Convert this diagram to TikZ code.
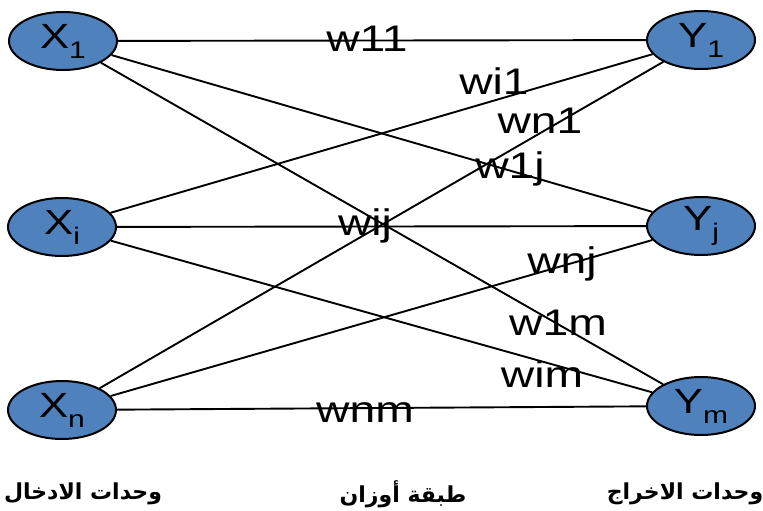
\documentclass[tikz,border=0pt]{standalone}
\usepackage{fontspec}
\usetikzlibrary{shapes.geometric}
\TeXXeTstate=1
\setmainfont{Liberation Sans}
\newfontfamily\wfont[FakeStretch=1.25]{Liberation Sans}
\newfontfamily\arabicfont[Script=Arabic]{DejaVu Sans}
\definecolor{unitblue}{HTML}{4F81BD}
\tikzset{
  unit/.style={ellipse, draw=black, line width=2pt, fill=unitblue,
    minimum width=108pt, minimum height=58pt, inner sep=0pt,
    font=\wfont\fontsize{35}{35}\selectfont},
  link/.style={draw=black, line width=1.9pt},
  weight/.style={anchor=base, inner sep=0pt, font=\wfont\fontsize{37}{37}\selectfont},
  caption/.style={anchor=center, inner sep=0pt, font=\arabicfont\bfseries\fontsize{22}{22}\selectfont}
}
\newcommand{\unitsub}[1]{\raisebox{-10pt}{\fontsize{24}{24}\selectfont #1}}
\begin{document}
\begin{tikzpicture}[x=1pt, y=-1pt]
\useasboundingbox (0,0) rectangle (763,511);

% input units
\node[unit] (x1) at (63,41) {X\unitsub{1}};
\node[unit] (xi) at (62,227) {X\unitsub{i}};
\node[unit] (xn) at (62,410) {X\unitsub{n}};
% output units
\node[unit] (y1) at (701,40) {Y\unitsub{1}};
\node[unit] (yj) at (701,226) {Y\unitsub{j}};
\node[unit] (ym) at (701,406) {Y\unitsub{m}};

% full connections between the two layers
\foreach \a in {x1,xi,xn}{
  \foreach \b in {y1,yj,ym}{
    \path[link] (\a) -- (\b);
  }
}

% weight labels
\node[weight] (w11) at (367,52) {w11};
\node[weight] (wi1) at (494,95) {wi1};
\node[weight] (wn1) at (540,133) {wn1};
\node[weight] (w1j) at (510,178) {w1j};
\node[weight] (wij) at (365,235) {wij};
\node[weight] (wnj) at (562,273) {wnj};
\node[weight] (w1m) at (558,335) {w1m};
\node[weight] (wim) at (542,387) {wim};
\node[weight] (wnm) at (365,422) {wnm};

% layer captions
\node[caption] (cin) at (83,494) {\beginR وحدات الادخال\endR};
\node[caption] (cw) at (403,494) {\beginR طبقة أوزان\endR};
\node[caption] (cout) at (685,494) {\beginR وحدات الاخراج\endR};
\end{tikzpicture}
\end{document}
